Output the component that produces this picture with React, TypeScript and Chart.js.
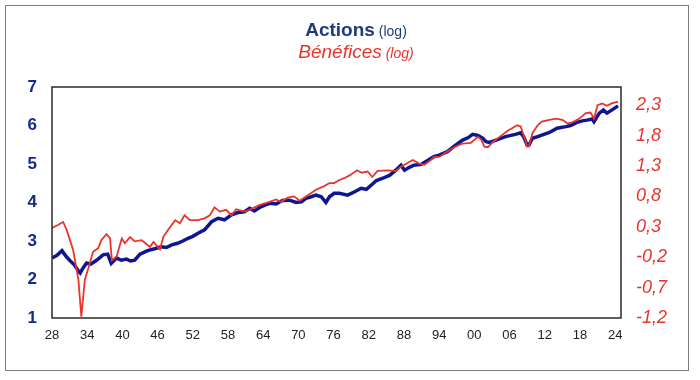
import React, { useEffect, useRef } from "react";
import { Chart, registerables } from "chart.js";

Chart.register(...registerables);

const actionsYears = [
  1928.0, 1928.8, 1929.7, 1930.3, 1931.0, 1931.8, 1932.5, 1932.8, 1933.3, 1933.9,
  1934.6, 1935.6, 1936.7, 1937.5, 1938.1, 1939.0, 1939.8, 1940.7, 1941.4, 1942.1,
  1943.0, 1944.3, 1945.5, 1946.6, 1947.5, 1948.4, 1949.4, 1950.3, 1951.2, 1952.0,
  1952.9, 1954.0, 1955.2, 1956.3, 1957.4, 1958.6, 1959.7, 1960.8, 1961.7, 1962.5,
  1963.4, 1964.3, 1965.1, 1966.2, 1967.3, 1968.5, 1969.6, 1970.5, 1971.3, 1972.2,
  1973.0, 1973.9, 1974.7, 1975.3, 1976.1, 1977.0, 1978.4, 1979.6, 1980.7, 1981.6,
  1982.4, 1983.3, 1984.4, 1985.6, 1986.6, 1987.5, 1988.1, 1989.0, 1989.7, 1990.9,
  1992.1, 1993.1, 1994.0, 1995.4, 1996.8, 1998.0, 1998.9, 1999.7, 2000.6, 2001.4,
  2002.0, 2002.6, 2003.7, 2005.3, 2007.0, 2007.9, 2008.4, 2009.0, 2009.3, 2009.9,
  2010.8, 2011.5, 2012.8, 2014.1, 2015.6, 2016.4, 2017.5, 2018.4, 2019.2, 2020.1,
  2020.4, 2021.3, 2022.0, 2022.6, 2023.4, 2024.5,
];
const actionsValues = [
  2.56, 2.62, 2.75, 2.62, 2.5, 2.38, 2.22, 2.17, 2.3, 2.43,
  2.4, 2.5, 2.64, 2.66, 2.42, 2.56, 2.5, 2.53, 2.48, 2.5,
  2.66, 2.75, 2.8, 2.85, 2.83, 2.9, 2.94, 3.0, 3.07, 3.12,
  3.2, 3.29, 3.5, 3.59, 3.55, 3.68, 3.74, 3.76, 3.85, 3.78,
  3.87, 3.93, 3.98, 3.96, 4.05, 4.06, 4.0, 4.02, 4.11, 4.15,
  4.19, 4.15, 4.0, 4.15, 4.24, 4.24, 4.19, 4.28, 4.37, 4.34,
  4.45, 4.57, 4.63, 4.71, 4.84, 4.97, 4.84, 4.92, 4.97, 4.99,
  5.1, 5.19, 5.23, 5.32, 5.49, 5.62, 5.68, 5.77, 5.74, 5.67,
  5.58, 5.56, 5.62, 5.71, 5.77, 5.81, 5.71, 5.49, 5.49, 5.67,
  5.71, 5.75, 5.82, 5.93, 5.97, 6.0, 6.08, 6.12, 6.14, 6.17,
  6.1, 6.32, 6.4, 6.32, 6.4, 6.51,
];

const beneficesYears = [
  1928.0, 1929.0, 1929.9, 1930.5, 1931.6, 1932.5, 1933.0, 1933.6, 1934.2, 1935.0,
  1935.9, 1936.4, 1937.3, 1937.9, 1938.2, 1939.0, 1939.9, 1940.4, 1941.3, 1942.1,
  1943.3, 1944.7, 1945.3, 1946.4, 1947.0, 1947.8, 1949.0, 1949.8, 1950.6, 1951.5,
  1952.9, 1954.0, 1954.9, 1955.7, 1956.6, 1957.7, 1958.6, 1959.4, 1960.8, 1961.7,
  1963.4, 1965.1, 1966.2, 1967.0, 1968.2, 1969.3, 1970.2, 1971.3, 1973.0, 1974.4,
  1975.3, 1976.1, 1977.0, 1977.8, 1978.8, 1980.0, 1980.8, 1981.8, 1982.6, 1983.5,
  1985.2, 1986.6, 1987.5, 1988.6, 1989.5, 1990.6, 1991.5, 1992.6, 1993.1, 1994.0,
  1995.4, 1996.8, 1998.0, 1999.4, 2000.6, 2001.2, 2001.7, 2002.3, 2003.2, 2004.3,
  2005.7, 2007.3, 2007.9, 2008.5, 2009.0, 2009.3, 2009.9, 2010.8, 2011.5, 2012.8,
  2013.9, 2015.0, 2015.9, 2016.7, 2017.9, 2019.0, 2019.8, 2020.4, 2021.0, 2021.8,
  2022.6, 2023.4, 2024.5,
];
const beneficesValues = [
  0.28, 0.33, 0.38, 0.25, -0.08, -0.57, -1.18, -0.57, -0.38, -0.11,
  -0.05, 0.08, 0.18, 0.11, -0.25, -0.19, 0.11, 0.03, 0.13, 0.06,
  0.08, -0.03, 0.05, -0.07, 0.14, 0.25, 0.41, 0.36, 0.49, 0.41,
  0.41, 0.44, 0.49, 0.62, 0.55, 0.58, 0.49, 0.59, 0.55, 0.58,
  0.66, 0.71, 0.75, 0.71, 0.78, 0.8, 0.73, 0.8, 0.91, 0.97,
  1.02, 1.02, 1.07, 1.1, 1.15, 1.23, 1.19, 1.21, 1.12, 1.22,
  1.23, 1.22, 1.29, 1.35, 1.4, 1.34, 1.32, 1.4, 1.45, 1.45,
  1.54, 1.62, 1.67, 1.68, 1.78, 1.73, 1.62, 1.61, 1.7, 1.78,
  1.88, 1.97, 1.95, 1.78, 1.62, 1.62, 1.84, 1.97, 2.03, 2.06,
  2.08, 2.06, 2.0, 2.02, 2.08, 2.17, 2.18, 2.08, 2.3, 2.33,
  2.29, 2.33, 2.36,
];

const xTickYears = [1928, 1934, 1940, 1946, 1952, 1958, 1964, 1970, 1976, 1982, 1988, 1994, 2000, 2006, 2012, 2018, 2024];
const leftTicks = [1, 2, 3, 4, 5, 6, 7];
const rightTicks = [-1.2, -0.7, -0.2, 0.3, 0.8, 1.3, 1.8, 2.3];

const FONT = "'Liberation Sans', Arial, sans-serif";
const BLUE = "#0d1690";
const RED = "#e8342c";

export default function App() {
  const ref = useRef<HTMLCanvasElement>(null);

  useEffect(() => {
    if (!ref.current) return;
    const frame = {
      id: "frame",
      afterDatasetsDraw(chart: any) {
        const { ctx, chartArea: a } = chart;
        ctx.save();
        ctx.strokeStyle = "#2a2a2a";
        ctx.lineWidth = 1.5;
        ctx.strokeRect(a.left, a.top, a.right - a.left, a.bottom - a.top);
        ctx.restore();
      },
    };
    const chart = new Chart(ref.current, {
      type: "line",
      data: {
        datasets: [
          {
            label: "Bénéfices",
            data: beneficesYears.map((x, i) => ({ x, y: beneficesValues[i] })),
            yAxisID: "y1",
            borderColor: RED,
            borderWidth: 1.8,
            pointRadius: 0,
            tension: 0,
          },
          {
            label: "Actions",
            data: actionsYears.map((x, i) => ({ x, y: actionsValues[i] })),
            yAxisID: "y",
            borderColor: BLUE,
            borderWidth: 3.5,
            pointRadius: 0,
            tension: 0,
          },
        ],
      },
      options: {
        responsive: false,
        animation: false,
        layout: { padding: { top: 87, left: 0, right: 0, bottom: 0 } },
        plugins: { legend: { display: false }, tooltip: { enabled: false } },
        scales: {
          x: {
            type: "linear",
            min: 1928,
            max: 2025,
            grid: { display: false, drawTicks: false },
            border: { display: false },
            afterBuildTicks: (s: any) => {
              s.ticks = xTickYears.map((v) => ({ value: v }));
            },
            afterFit: (s: any) => {
              s.height = 62;
            },
            ticks: {
              autoSkip: false,
              maxRotation: 0,
              padding: 10,
              color: "#222",
              font: { family: FONT, size: 13 },
              callback: (v: any) => String(Number(v) % 100).padStart(2, "0"),
            },
          },
          y: {
            position: "left",
            min: 1,
            max: 7,
            grid: { display: false, drawTicks: false },
            border: { display: false },
            afterBuildTicks: (s: any) => {
              s.ticks = leftTicks.map((v) => ({ value: v }));
            },
            afterFit: (s: any) => {
              s.width = 52;
            },
            ticks: {
              padding: 15,
              color: "#152a8c",
              font: { family: FONT, size: 17, weight: "bold" },
              callback: (v: any) => String(v),
            },
          },
          y1: {
            position: "right",
            min: -1.2,
            max: 2.6,
            grid: { display: false, drawTicks: false },
            border: { display: false },
            afterBuildTicks: (s: any) => {
              s.ticks = rightTicks.map((v) => ({ value: v }));
            },
            afterFit: (s: any) => {
              s.width = 79;
            },
            ticks: {
              padding: 15,
              color: RED,
              font: { family: FONT, size: 18, style: "italic" },
              callback: (v: any) => Number(v).toFixed(1).replace(".", ","),
            },
          },
        },
      },
      plugins: [frame],
    } as any);
    return () => chart.destroy();
  }, []);

  return (
    <div style={{ position: "fixed", left: 0, top: 0, width: 700, height: 380, background: "#fff", fontFamily: FONT }}>
      <div
        style={{
          position: "absolute",
          left: 5,
          top: 5,
          width: 684,
          height: 366,
          border: "1px solid #7a7a7a",
          boxSizing: "border-box",
        }}
      />
      <canvas ref={ref} width={700} height={380} style={{ position: "absolute", left: 0, top: 0, width: 700, height: 380 }} />
      <div
        style={{
          position: "absolute",
          left: 0,
          top: 19,
          width: 712,
          textAlign: "center",
          lineHeight: "22px",
          whiteSpace: "nowrap",
        }}
      >
        <span style={{ color: "#1f3c78", fontWeight: "bold", fontSize: 19 }}>Actions</span>
        <span style={{ color: "#1f3c78", fontSize: 14 }}> (log)</span>
      </div>
      <div
        style={{
          position: "absolute",
          left: 0,
          top: 41,
          width: 712,
          textAlign: "center",
          lineHeight: "22px",
          whiteSpace: "nowrap",
          fontStyle: "italic",
        }}
      >
        <span style={{ color: RED, fontSize: 19 }}>Bénéfices</span>
        <span style={{ color: RED, fontSize: 14 }}> (log)</span>
      </div>
    </div>
  );
}
